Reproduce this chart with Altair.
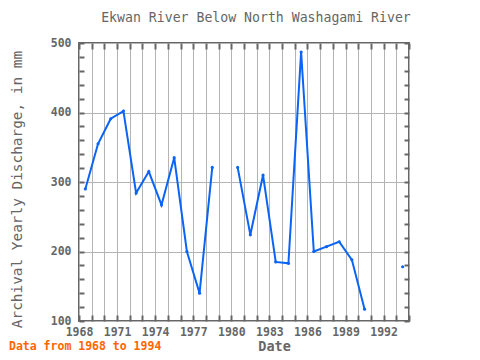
import altair as alt
import pandas as pd

years = list(range(1968, 1994))
discharge = [290, 355, 391, 402, 284, 315, 267, 335, 200, 140, 321, None,
             321, 224, 310, 185, 183, 487, 200, 207, 214, 188, 117, None, None, 178]
x_ticks = list(range(1968, 1995))
y_major = [100, 200, 300, 400, 500]
y_minor = list(range(100, 501, 20))
title_text = ["Ekwan River Below North Washagami River"]
note_text = ["Data from 1968 to 1994"]

rows = []
seg = 0
for yr, v in zip(years, discharge):
    if v is None:
        seg += 1
        continue
    rows.append({"year": yr + 0.5, "value": v, "seg": seg})
df = pd.DataFrame(rows)

W, H = 330, 278
FONT = "DejaVu Sans Mono"
GRAY = "#666666"
BLUE = "#0a64f5"
ORANGE = "#ff6600"

xs = alt.Scale(domain=[1968, 1994], nice=False, zero=False)
ys = alt.Scale(domain=[100, 500], nice=False, zero=False)

label_expr = "(datum.value - 1968) % 3 == 0 ? format(datum.value, 'd') : ''"

x_main = alt.Axis(orient="bottom", values=x_ticks, labelExpr=label_expr, grid=True,
                  gridColor="#b4b4b4", gridWidth=1, ticks=False, domain=False,
                  labelFont=FONT, labelFontSize=11.5, labelFontWeight="bold", labelColor=GRAY,
                  labelPadding=5, labelFlush=False, labelOverlap=False,
                  title="Date", titleFont=FONT, titleFontSize=13.5, titleFontWeight="bold",
                  titleColor=GRAY, titleX=195, titleY=29, titleBaseline="alphabetic")
y_main = alt.Axis(orient="left", values=y_major, grid=True, gridColor="#b4b4b4", gridWidth=1,
                  ticks=False, domain=False, labelFont=FONT, labelFontSize=11.5,
                  labelFontWeight="bold", labelColor=GRAY, labelPadding=8,
                  title="Archival Yearly Discharge, in mm", titleFont=FONT, titleFontSize=14.4,
                  titleFontWeight="normal", titleColor=GRAY, titleAngle=270, titleX=-62,
                  titleY=146, titleBaseline="middle", titleAlign="center")

x_tick_bottom = alt.Axis(orient="top", offset=-H, values=x_ticks, labels=False, grid=False,
                         domain=False, ticks=True, tickSize=6, tickWidth=2, tickColor=GRAY, title=None)
x_tick_top = alt.Axis(orient="bottom", offset=-H, values=x_ticks, labels=False, grid=False,
                      domain=False, ticks=True, tickSize=6, tickWidth=2, tickColor=GRAY, title=None)
y_tick_left = alt.Axis(orient="right", offset=-W, values=y_minor, labels=False, grid=False,
                       domain=False, ticks=True, tickSize=5, tickWidth=2, tickColor=GRAY, title=None)
y_tick_right = alt.Axis(orient="left", offset=-W, values=y_minor, labels=False, grid=False,
                        domain=False, ticks=True, tickSize=5, tickWidth=2, tickColor=GRAY, title=None)

line = alt.Chart(df).mark_line(color=BLUE, strokeWidth=2).encode(
    x=alt.X("year:Q", scale=xs, axis=x_main),
    y=alt.Y("value:Q", scale=ys, axis=y_main),
    detail="seg:N",
)
pts = alt.Chart(df).mark_circle(color=BLUE, size=10, opacity=1).encode(
    x=alt.X("year:Q", scale=xs, axis=x_tick_bottom),
    y=alt.Y("value:Q", scale=ys, axis=y_tick_left),
)
ghost = alt.Chart(df).mark_point(opacity=0).encode(
    x=alt.X("year:Q", scale=xs, axis=x_tick_top),
    y=alt.Y("value:Q", scale=ys, axis=y_tick_right),
)
title = alt.Chart(pd.DataFrame({"t": title_text})).mark_text(
    font=FONT, fontSize=13.2, color=GRAY, align="center", baseline="alphabetic"
).encode(x=alt.value(177), y=alt.value(-21), text="t:N")
note = alt.Chart(pd.DataFrame({"t": note_text})).mark_text(
    font=FONT, fontSize=11.5, fontWeight="bold", color=ORANGE, align="left", baseline="alphabetic"
).encode(x=alt.value(-70), y=alt.value(307), text="t:N")

chart = alt.layer(line, pts, ghost, title, note).resolve_axis(
    x="independent", y="independent"
).properties(
    width=W, height=H,
    autosize=alt.AutoSizeParams(type="none"),
    padding={"left": 71, "top": 35, "right": 63, "bottom": 31},
).configure_view(stroke=GRAY, strokeWidth=2)

chart.save("out.html", embed_options={"renderer": "svg", "actions": False})
